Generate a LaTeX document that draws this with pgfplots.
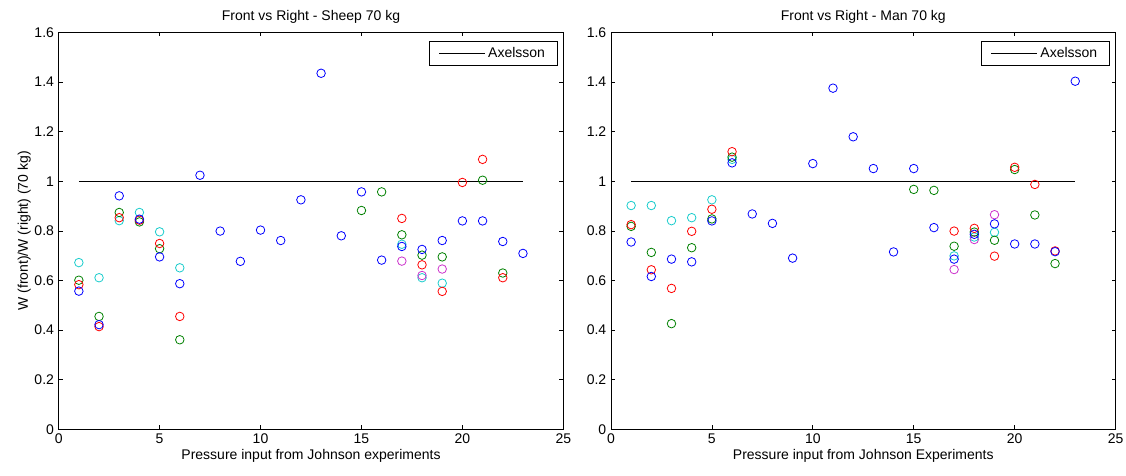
\documentclass[border=0pt]{standalone}
\usepackage{pgfplots}
\pgfplotsset{compat=1.18}
\usepackage{fontspec}
\setmainfont{Liberation Sans}
\definecolor{mb}{rgb}{0,0,1}
\definecolor{mg}{rgb}{0,0.5,0}
\definecolor{mr}{rgb}{1,0,0}
\definecolor{mc}{rgb}{0.1,0.8,0.8}
\definecolor{mm}{rgb}{0.8,0.2,0.8}
\pgfplotsset{
  mlab/.style={
    scale only axis, width=378.5pt, height=297.75pt,
    xmin=0, xmax=25, ymin=0, ymax=1.6,
    xtick={0,5,...,25}, ytick={0,0.2,...,1.6},
    tick align=inside, major tick length=3pt,
    axis line style={line width=0.6pt}, tick style={line width=0.5pt,black},
    every tick label/.append style={font=\fontsize{10.5}{12}\selectfont},
    /pgf/number format/assume math mode=true,
    yticklabel style={/pgf/number format/fixed},
    label style={font=\fontsize{10.5}{12}\selectfont},
    title style={font=\fontsize{10.5}{12}\selectfont, yshift=-3pt},
    legend style={at={(1,1)}, anchor=north east, xshift=-4.5pt, yshift=-6.5pt,
      draw=black, line width=0.5pt,
      font=\fontsize{10.5}{12}\selectfont, inner xsep=7pt, inner ysep=2.5pt, legend cell align=left},
    legend image code/.code={\draw[#1] (0pt,0pt) -- (34.5pt,0pt);},
    legend image post style={line width=0.5pt},
    every axis plot/.append style={line width=0.6pt},
  },
  sc/.style={only marks, mark=o, mark size=3.2pt, color=#1, forget plot, mark options={line width=0.6pt}},
}
\begin{document}
\begin{tikzpicture}
\useasboundingbox (-44pt,-34.3pt) rectangle (800.5pt,322pt);
\begin{axis}[mlab, at={(0,0)}, anchor=south west,
  title={Front vs Right - Sheep 70 kg},
  xlabel={Pressure input from Johnson experiments},
  ylabel={W (front)/W (right) (70 kg)},
  xlabel style={yshift=3pt}, ylabel style={yshift=-4pt}]
\addplot[black, line width=0.6pt] coordinates {(1,1) (23,1)};
\addlegendentry{Axelsson}
\addplot[sc=mc] coordinates {(1,0.672)(2,0.611)(3,0.841)(4,0.874)(5,0.796)(6,0.651)(17,0.746)(18,0.611)(19,0.589)};
\addplot[sc=mm] coordinates {(17,0.678)(18,0.620)(19,0.646)};
\addplot[sc=mg] coordinates {(1,0.601)(2,0.455)(3,0.874)(4,0.836)(5,0.728)(6,0.361)(15,0.882)(16,0.957)(17,0.784)(18,0.702)(19,0.695)(21,1.004)(22,0.630)};
\addplot[sc=mr] coordinates {(1,0.583)(2,0.414)(3,0.853)(4,0.843)(5,0.749)(6,0.455)(17,0.850)(18,0.663)(19,0.556)(20,0.995)(21,1.088)(22,0.611)};
\addplot[sc=mb] coordinates {(1,0.557)(2,0.422)(3,0.941)(4,0.847)(5,0.695)(6,0.587)(7,1.024)(8,0.799)(9,0.677)(10,0.803)(11,0.761)(12,0.925)(13,1.435)(14,0.780)(15,0.957)(16,0.682)(17,0.737)(18,0.725)(19,0.761)(20,0.840)(21,0.840)(22,0.757)(23,0.709)};
\end{axis}
\begin{axis}[mlab, at={(414.2pt,0)}, anchor=south west,
  title={Front vs Right - Man 70 kg},
  xlabel={Pressure input from Johnson Experiments},
  xlabel style={yshift=3pt}]
\addplot[black, line width=0.6pt] coordinates {(1,1) (23,1)};
\addlegendentry{Axelsson}
\addplot[sc=mc] coordinates {(1,0.902)(2,0.902)(3,0.841)(4,0.853)(5,0.925)(6,1.088)(17,0.699)(18,0.775)(19,0.794)};
\addplot[sc=mm] coordinates {(17,0.644)(18,0.765)(19,0.865)};
\addplot[sc=mg] coordinates {(1,0.818)(2,0.713)(3,0.426)(4,0.732)(5,0.848)(6,1.097)(15,0.967)(16,0.963)(17,0.738)(18,0.795)(19,0.762)(20,1.047)(21,0.864)(22,0.668)};
\addplot[sc=mr] coordinates {(1,0.825)(2,0.643)(3,0.568)(4,0.798)(5,0.887)(6,1.119)(17,0.799)(18,0.810)(19,0.698)(20,1.056)(21,0.987)(22,0.719)};
\addplot[sc=mb] coordinates {(1,0.755)(2,0.616)(3,0.686)(4,0.675)(5,0.840)(6,1.074)(7,0.868)(8,0.830)(9,0.690)(10,1.071)(11,1.375)(12,1.179)(13,1.051)(14,0.715)(15,1.051)(16,0.813)(17,0.686)(18,0.786)(19,0.828)(20,0.747)(21,0.747)(22,0.716)(23,1.403)};
\end{axis}
\end{tikzpicture}
\end{document}
